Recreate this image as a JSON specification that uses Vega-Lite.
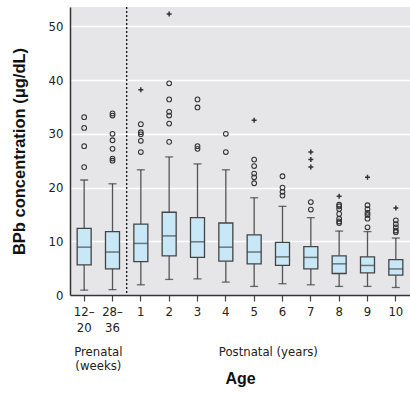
{
  "$schema": "https://vega.github.io/schema/vega-lite/v6.json",
  "width": 340,
  "height": 288,
  "autosize": "none",
  "padding": {"left": 70, "top": 7, "right": 0, "bottom": 98},
  "background": "white",
  "config": {
    "view": {"fill": "#e6e6e9", "stroke": null},
    "axis": {
      "labelFont": "Liberation Sans Narrow, DejaVu Sans Condensed, Roboto Condensed, sans-serif",
      "labelFontSize": 13,
      "labelColor": "#222",
      "titleFont": "Liberation Sans, Arial, sans-serif",
      "titleFontWeight": "bold",
      "titleColor": "#111"
    }
  },
  "datasets": {
    "boxes": [
      {"cat": "12–20", "lower": 0.9, "q1": 5.6, "median": 8.9, "q3": 12.4, "upper": 21.4},
      {"cat": "28–36", "lower": 1.0, "q1": 4.85, "median": 8.0, "q3": 11.8, "upper": 20.7},
      {"cat": "1", "lower": 1.9, "q1": 6.2, "median": 9.6, "q3": 13.2, "upper": 23.3},
      {"cat": "2", "lower": 2.9, "q1": 7.3, "median": 11.0, "q3": 15.4, "upper": 25.7},
      {"cat": "3", "lower": 3.0, "q1": 7.0, "median": 9.9, "q3": 14.4, "upper": 24.4},
      {"cat": "4", "lower": 2.4, "q1": 6.3, "median": 8.9, "q3": 13.4, "upper": 23.3},
      {"cat": "5", "lower": 1.6, "q1": 5.8, "median": 8.0, "q3": 11.2, "upper": 18.1},
      {"cat": "6", "lower": 2.1, "q1": 5.5, "median": 7.1, "q3": 9.8, "upper": 16.5},
      {"cat": "7", "lower": 1.9, "q1": 4.85, "median": 7.0, "q3": 9.0, "upper": 14.4},
      {"cat": "8", "lower": 1.6, "q1": 4.0, "median": 5.8, "q3": 7.3, "upper": 11.9},
      {"cat": "9", "lower": 1.6, "q1": 4.1, "median": 5.5, "q3": 7.1, "upper": 11.8},
      {"cat": "10", "lower": 1.4, "q1": 3.7, "median": 4.85, "q3": 6.6, "upper": 10.6}
    ],
    "outliers": [
      {"cat": "12–20", "value": 33.1, "kind": "mild"},
      {"cat": "12–20", "value": 31.1, "kind": "mild"},
      {"cat": "12–20", "value": 27.7, "kind": "mild"},
      {"cat": "12–20", "value": 23.8, "kind": "mild"},
      {"cat": "28–36", "value": 33.8, "kind": "mild"},
      {"cat": "28–36", "value": 33.4, "kind": "mild"},
      {"cat": "28–36", "value": 30.0, "kind": "mild"},
      {"cat": "28–36", "value": 28.8, "kind": "mild"},
      {"cat": "28–36", "value": 27.2, "kind": "mild"},
      {"cat": "28–36", "value": 25.4, "kind": "mild"},
      {"cat": "28–36", "value": 25.0, "kind": "mild"},
      {"cat": "1", "value": 38.2, "kind": "extreme"},
      {"cat": "1", "value": 31.8, "kind": "mild"},
      {"cat": "1", "value": 30.3, "kind": "mild"},
      {"cat": "1", "value": 29.9, "kind": "mild"},
      {"cat": "1", "value": 28.7, "kind": "mild"},
      {"cat": "1", "value": 26.6, "kind": "mild"},
      {"cat": "2", "value": 52.3, "kind": "extreme"},
      {"cat": "2", "value": 39.4, "kind": "mild"},
      {"cat": "2", "value": 36.4, "kind": "mild"},
      {"cat": "2", "value": 34.1, "kind": "mild"},
      {"cat": "2", "value": 33.4, "kind": "mild"},
      {"cat": "2", "value": 31.9, "kind": "mild"},
      {"cat": "2", "value": 28.5, "kind": "mild"},
      {"cat": "3", "value": 36.4, "kind": "mild"},
      {"cat": "3", "value": 34.9, "kind": "mild"},
      {"cat": "3", "value": 27.7, "kind": "mild"},
      {"cat": "3", "value": 27.2, "kind": "mild"},
      {"cat": "4", "value": 30.0, "kind": "mild"},
      {"cat": "4", "value": 26.6, "kind": "mild"},
      {"cat": "5", "value": 32.5, "kind": "extreme"},
      {"cat": "5", "value": 25.2, "kind": "mild"},
      {"cat": "5", "value": 24.0, "kind": "mild"},
      {"cat": "5", "value": 22.6, "kind": "mild"},
      {"cat": "5", "value": 21.9, "kind": "mild"},
      {"cat": "5", "value": 20.8, "kind": "mild"},
      {"cat": "6", "value": 22.1, "kind": "mild"},
      {"cat": "6", "value": 20.0, "kind": "mild"},
      {"cat": "6", "value": 19.2, "kind": "mild"},
      {"cat": "6", "value": 18.5, "kind": "mild"},
      {"cat": "7", "value": 26.6, "kind": "extreme"},
      {"cat": "7", "value": 25.2, "kind": "extreme"},
      {"cat": "7", "value": 23.8, "kind": "extreme"},
      {"cat": "7", "value": 17.3, "kind": "mild"},
      {"cat": "7", "value": 15.9, "kind": "mild"},
      {"cat": "8", "value": 18.4, "kind": "extreme"},
      {"cat": "8", "value": 16.8, "kind": "mild"},
      {"cat": "8", "value": 16.5, "kind": "mild"},
      {"cat": "8", "value": 16.0, "kind": "mild"},
      {"cat": "8", "value": 15.1, "kind": "mild"},
      {"cat": "8", "value": 14.2, "kind": "mild"},
      {"cat": "8", "value": 13.7, "kind": "mild"},
      {"cat": "8", "value": 13.4, "kind": "mild"},
      {"cat": "9", "value": 21.9, "kind": "extreme"},
      {"cat": "9", "value": 16.7, "kind": "mild"},
      {"cat": "9", "value": 16.0, "kind": "mild"},
      {"cat": "9", "value": 15.3, "kind": "mild"},
      {"cat": "9", "value": 14.9, "kind": "mild"},
      {"cat": "9", "value": 14.2, "kind": "mild"},
      {"cat": "9", "value": 12.6, "kind": "mild"},
      {"cat": "10", "value": 16.2, "kind": "extreme"},
      {"cat": "10", "value": 13.9, "kind": "mild"},
      {"cat": "10", "value": 13.2, "kind": "mild"},
      {"cat": "10", "value": 12.6, "kind": "mild"},
      {"cat": "10", "value": 12.0, "kind": "mild"},
      {"cat": "10", "value": 11.7, "kind": "mild"}
    ],
    "divider": [{"cat": "1"}],
    "groups": [
      {"label": "Prenatal\n(weeks)", "cat": "28–36"},
      {"label": "Postnatal (years)", "cat": "6"}
    ]
  },
  "encoding": {
    "x": {
      "field": "cat",
      "type": "nominal",
      "sort": ["12–20", "28–36", "1", "2", "3", "4", "5", "6", "7", "8", "9", "10"],
      "scale": {"domain": ["12–20", "28–36", "1", "2", "3", "4", "5", "6", "7", "8", "9", "10"], "paddingInner": 0, "paddingOuter": 0},
      "axis": {
        "title": "Age",
        "titleFontSize": 16,
        "titlePadding": 36,
        "labelAngle": 0,
        "labelExpr": "datum.label == '12–20' ? ['12–', '20'] : datum.label == '28–36' ? ['28–', '36'] : datum.label",
        "labelLineHeight": 16,
        "labelPadding": 4,
        "labelBaseline": "top",
        "domainColor": "#333",
        "domainWidth": 1.5,
        "tickColor": "#444",
        "tickSize": 6,
        "tickWidth": 1.2,
        "grid": false
      }
    }
  },
  "layer": [
    {
      "data": {"name": "divider"},
      "mark": {"type": "rule", "color": "#111", "strokeDash": [2, 2], "strokeWidth": 1.3},
      "encoding": {"x": {"field": "cat", "type": "nominal", "bandPosition": 0}}
    },
    {
      "data": {"name": "boxes"},
      "mark": {"type": "rule", "color": "#555", "strokeWidth": 1.3},
      "encoding": {
        "y": {
          "field": "lower",
          "type": "quantitative",
          "scale": {"domain": [0, 53.6], "nice": false, "zero": false},
          "axis": {
            "title": "BPb concentration (μg/dL)",
            "titleFontSize": 16.5,
            "titlePadding": 21,
            "values": [0, 10, 20, 30, 40, 50],
            "ticks": false,
            "labelPadding": 7,
            "grid": true,
            "gridColor": "white",
            "gridWidth": 1.3,
            "domainColor": "#333",
            "domainWidth": 1.5
          }
        },
        "y2": {"field": "q1"}
      }
    },
    {
      "data": {"name": "boxes"},
      "mark": {"type": "rule", "color": "#555", "strokeWidth": 1.3},
      "encoding": {
        "y": {"field": "q3", "type": "quantitative"},
        "y2": {"field": "upper"}
      }
    },
    {
      "data": {"name": "boxes"},
      "mark": {"type": "tick", "color": "#333", "size": 8, "thickness": 1.3},
      "encoding": {"y": {"field": "lower", "type": "quantitative"}}
    },
    {
      "data": {"name": "boxes"},
      "mark": {"type": "tick", "color": "#333", "size": 8, "thickness": 1.3},
      "encoding": {"y": {"field": "upper", "type": "quantitative"}}
    },
    {
      "data": {"name": "boxes"},
      "mark": {"type": "bar", "size": 14, "fill": "#c8e8f8", "stroke": "#444", "strokeWidth": 1.3},
      "encoding": {
        "y": {"field": "q1", "type": "quantitative"},
        "y2": {"field": "q3"}
      }
    },
    {
      "data": {"name": "boxes"},
      "mark": {"type": "tick", "color": "#444", "size": 14, "thickness": 1.5},
      "encoding": {"y": {"field": "median", "type": "quantitative"}}
    },
    {
      "data": {"name": "outliers"},
      "transform": [{"filter": "datum.kind == 'mild'"}],
      "mark": {"type": "point", "shape": "circle", "filled": false, "stroke": "#333", "strokeWidth": 1.1, "size": 22, "opacity": 1},
      "encoding": {"y": {"field": "value", "type": "quantitative"}}
    },
    {
      "data": {"name": "outliers"},
      "transform": [{"filter": "datum.kind == 'extreme'"}],
      "mark": {"type": "point", "shape": "M-1,0H1M0,-1V1", "filled": false, "stroke": "#333", "strokeWidth": 1.5, "size": 25, "opacity": 1},
      "encoding": {"y": {"field": "value", "type": "quantitative"}}
    },
    {
      "data": {"name": "groups"},
      "mark": {"type": "text", "lineBreak": "\n", "baseline": "top", "align": "center", "font": "Liberation Sans Narrow, DejaVu Sans Condensed, Roboto Condensed, sans-serif", "fontSize": 13, "lineHeight": 14, "color": "#222"},
      "encoding": {
        "x": {"field": "cat", "type": "nominal", "bandPosition": 0},
        "y": {"datum": -9.4, "type": "quantitative"},
        "text": {"field": "label"}
      }
    }
  ]
}
